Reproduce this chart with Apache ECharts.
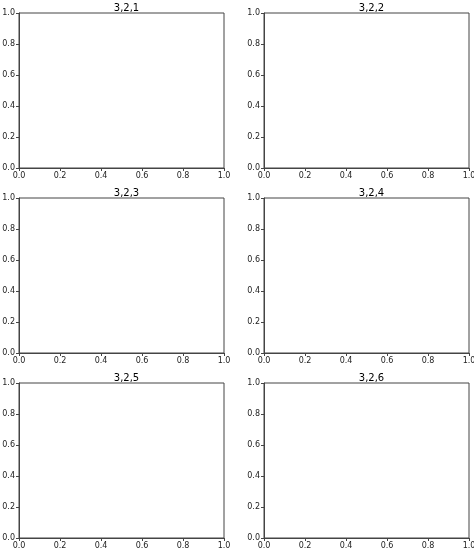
<!DOCTYPE html>
<html>
<head>
<meta charset="utf-8">
<script src="https://cdn.jsdelivr.net/npm/echarts@6/dist/echarts.min.js"></script>
<style>
  html, body { margin: 0; padding: 0; background: #fff; }
  #main { width: 474px; height: 552px; }
</style>
</head>
<body>
<div id="main"></div>
<script>
// subplot titles, one per panel (row, col order)
let titles = ['3,2,1', '3,2,2', '3,2,3', '3,2,4', '3,2,5', '3,2,6'];
// every panel is empty with default 0..1 limits
let axisMin = 0;
let axisMax = 1;
let tickStep = 0.2;

let myChart = echarts.init(document.getElementById('main'));

// panel boxes in pixels
let colLeft = [19, 264];
let rowTop = [13, 198, 383];
let boxW = 205;
let boxH = 155;

let grids = [], xAxes = [], yAxes = [], titleList = [], series = [];
titles.forEach((t, i) => {
    let r = Math.floor(i / 2), c = i % 2;
    grids.push({
        left: colLeft[c], top: rowTop[r], width: boxW, height: boxH,
        containLabel: false,
        outerBoundsMode: 'none', // labels may run off the page like in the original
        show: true, borderColor: '#444', borderWidth: 1, backgroundColor: '#fff'
    });
    titleList.push({
        text: t,
        left: colLeft[c] + boxW / 2,
        textAlign: 'center',
        top: rowTop[r] - 15,
        textStyle: { fontFamily: 'DejaVu Sans', fontSize: 10, fontWeight: 'normal', color: '#000' }
    });
    let ax = {
        gridIndex: i, type: 'value', min: axisMin, max: axisMax, interval: tickStep,
        axisLine: { show: true, onZero: false, lineStyle: { color: '#444', width: 1 } },
        axisTick: { show: true, inside: false, length: 3, lineStyle: { color: '#444' } },
        axisLabel: {
            fontFamily: 'DejaVu Sans', fontSize: 8, color: '#222', margin: 4,
            showMinLabel: true, showMaxLabel: true,
            formatter: v => v.toFixed(1)
        },
        splitLine: { show: false }
    };
    xAxes.push(Object.assign({}, ax));
    yAxes.push(Object.assign({}, ax));
    series.push({ type: 'line', xAxisIndex: i, yAxisIndex: i, data: [] });
});

myChart.setOption({
    animation: false,
    title: titleList,
    grid: grids,
    xAxis: xAxes,
    yAxis: yAxes,
    series: series
});
</script>
</body>
</html>
